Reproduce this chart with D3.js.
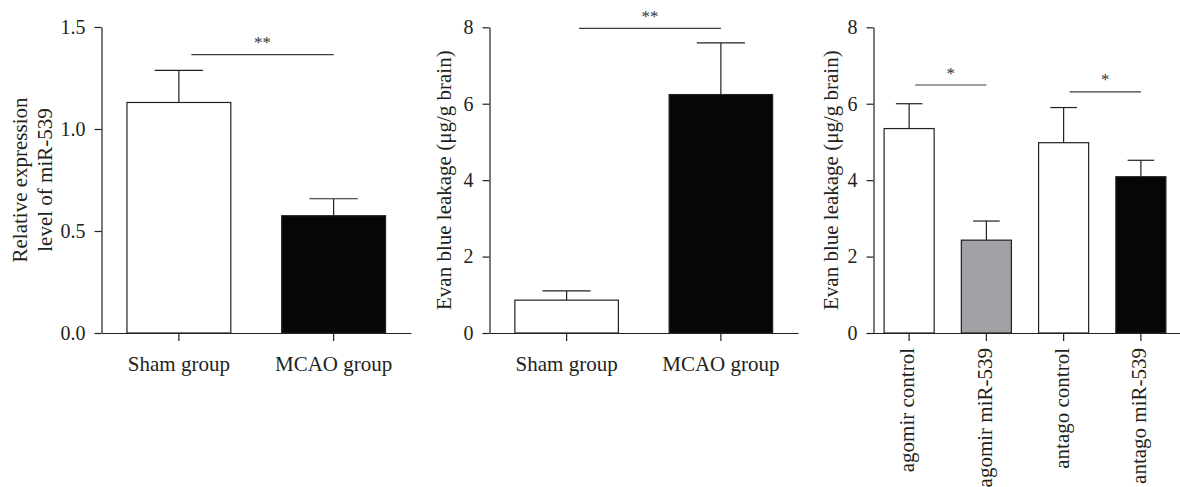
<!DOCTYPE html>
<html>
<head>
<meta charset="utf-8">
<script src="https://cdn.jsdelivr.net/npm/d3@7"></script>
<style>
    body { margin: 0; background: #ffffff; }
    svg text { font-family: "Liberation Serif", "DejaVu Serif", serif; fill: #231f20; }
    .axis path, .axis line { stroke: #231f20; stroke-width: 1.2px; }
</style>
</head>
<body>
<div id="chart"></div>
<script>
// panel A: miR-539 expression
var expGroups = ["Sham group", "MCAO group"];
var expMeans = [1.13, 0.575];
var expErrors = [0.157, 0.083];
var expTicks = [0, 0.5, 1.0, 1.5];

// panel B: Evans blue, sham vs MCAO
var ebGroups = ["Sham group", "MCAO group"];
var ebMeans = [0.86, 6.24];
var ebErrors = [0.245, 1.35];
var ebTicks = [0, 2, 4, 6, 8];

// panel C: Evans blue, agomir / antago
var treatGroups = ["agomir control", "agomir miR-539", "antago control", "antago miR-539"];
var treatMeans = [5.35, 2.43, 4.98, 4.09];
var treatErrors = [0.65, 0.50, 0.92, 0.43];
var treatTicks = [0, 2, 4, 6, 8];

// significance brackets: [first group, second group, level, mark]
var expSig = [[0, 1, 1.365, "**"]];
var ebSig = [[0, 1, 7.97, "**"]];
var treatSig = [[0, 1, 6.49, "*"], [2, 3, 6.31, "*"]];

var svg = d3.select("#chart").append("svg")
    .attr("width", 1180)
    .attr("height", 487);

var panels = [
    {
        groups: expGroups, means: expMeans, errors: expErrors, ticks: expTicks, sig: expSig,
        fmt: d3.format(".1f"), fills: ["#ffffff", "#050606"],
        axisX: 101.5, xRange: [101.5, 411], yRange: [333, 27], pad: 0.329, cap: 0.465,
        rotate: false, labels: ["Relative expression", "level of miR-539"], labelX: [27, 52]
    },
    {
        groups: ebGroups, means: ebMeans, errors: ebErrors, ticks: ebTicks, sig: ebSig,
        fmt: d3.format("d"), fills: ["#ffffff", "#050606"],
        axisX: 489.5, xRange: [489.5, 798], yRange: [333, 27.3], pad: 0.329, cap: 0.465,
        rotate: false, labels: ["Evan blue leakage (\u03bcg/g brain)"], labelX: [451]
    },
    {
        groups: treatGroups, means: treatMeans, errors: treatErrors, ticks: treatTicks, sig: treatSig,
        fmt: d3.format("d"), fills: ["#ffffff", "#a1a2a5", "#ffffff", "#050606"],
        axisX: 873.5, xRange: [870.5, 1179.5], yRange: [333, 27.3], pad: 0.352, cap: 0.53,
        rotate: true, labels: ["Evan blue leakage (\u03bcg/g brain)"], labelX: [838]
    }
];

panels.forEach(function (p) {
    var x = d3.scaleBand()
        .domain(p.groups)
        .range(p.xRange)
        .paddingInner(p.pad)
        .paddingOuter(p.pad / 2);
    var y = d3.scaleLinear()
        .domain([0, d3.max(p.ticks)])
        .range(p.yRange);

    var g = svg.append("g");
    var bw = x.bandwidth();

    var rows = p.groups.map(function (name, i) {
        return { name: name, mean: p.means[i], err: p.errors[i], fill: p.fills[i] };
    });

    // error bars (upper only), drawn behind bars
    g.selectAll(".err")
        .data(rows)
        .enter().append("line")
        .attr("x1", function (d) { return x(d.name) + bw / 2; })
        .attr("x2", function (d) { return x(d.name) + bw / 2; })
        .attr("y1", function (d) { return y(d.mean); })
        .attr("y2", function (d) { return y(d.mean + d.err); })
        .attr("stroke", "#231f20")
        .attr("stroke-width", 1.2);
    g.selectAll(".cap")
        .data(rows)
        .enter().append("line")
        .attr("x1", function (d) { return x(d.name) + bw / 2 - bw * p.cap / 2; })
        .attr("x2", function (d) { return x(d.name) + bw / 2 + bw * p.cap / 2; })
        .attr("y1", function (d) { return y(d.mean + d.err); })
        .attr("y2", function (d) { return y(d.mean + d.err); })
        .attr("stroke", "#231f20")
        .attr("stroke-width", 1.2);

    // bars
    g.selectAll(".bar")
        .data(rows)
        .enter().append("rect")
        .attr("class", "bar")
        .attr("x", function (d) { return x(d.name); })
        .attr("width", bw)
        .attr("y", function (d) { return y(d.mean); })
        .attr("height", function (d) { return y(0) - y(d.mean); })
        .attr("fill", function (d) { return d.fill; })
        .attr("stroke", "#231f20")
        .attr("stroke-width", 1.2);

    // y axis
    g.append("g")
        .attr("class", "axis")
        .attr("transform", "translate(" + p.axisX + ",0)")
        .call(d3.axisLeft(y).tickValues(p.ticks).tickFormat(p.fmt).tickSize(7).tickSizeOuter(0).tickPadding(9))
        .call(function (a) {
            a.selectAll("text").style("font-size", "20px").style("font-family", null).attr("fill", "#231f20");
        });

    // x axis
    var xa = g.append("g")
        .attr("class", "axis")
        .attr("transform", "translate(0," + y(0) + ")")
        .call(d3.axisBottom(x).tickSize(8).tickSizeOuter(0).tickPadding(15));
    xa.selectAll("text")
        .style("font-size", "21px")
        .style("font-family", null)
        .attr("fill", "#231f20");
    if (p.rotate) {
        xa.selectAll("text")
            .attr("transform", "rotate(-90)")
            .attr("x", -15)
            .attr("y", 0)
            .attr("dy", "0.25em")
            .style("text-anchor", "end");
    }

    // y axis title
    p.labels.forEach(function (t, i) {
        g.append("text")
            .attr("transform", "translate(" + p.labelX[i] + "," + (y(0) + y(d3.max(p.ticks))) / 2 + ") rotate(-90)")
            .attr("text-anchor", "middle")
            .style("font-size", "21px")
            .text(t);
    });

    // significance brackets
    p.sig.forEach(function (s) {
        var x1 = x(p.groups[s[0]]) + bw / 2 + bw * 0.12;
        var x2 = x(p.groups[s[1]]) + bw / 2;
        g.append("line")
            .attr("x1", x1)
            .attr("x2", x2)
            .attr("y1", y(s[2]))
            .attr("y2", y(s[2]))
            .attr("stroke", "#3a3a3a")
            .attr("stroke-width", 1.2);
        g.append("text")
            .attr("x", (x1 + x2) / 2)
            .attr("y", y(s[2]) - 6.5)
            .attr("text-anchor", "middle")
            .style("font-size", "17px")
            .style("fill", "#333333")
            .text(s[3]);
    });
});
</script>
</body>
</html>
